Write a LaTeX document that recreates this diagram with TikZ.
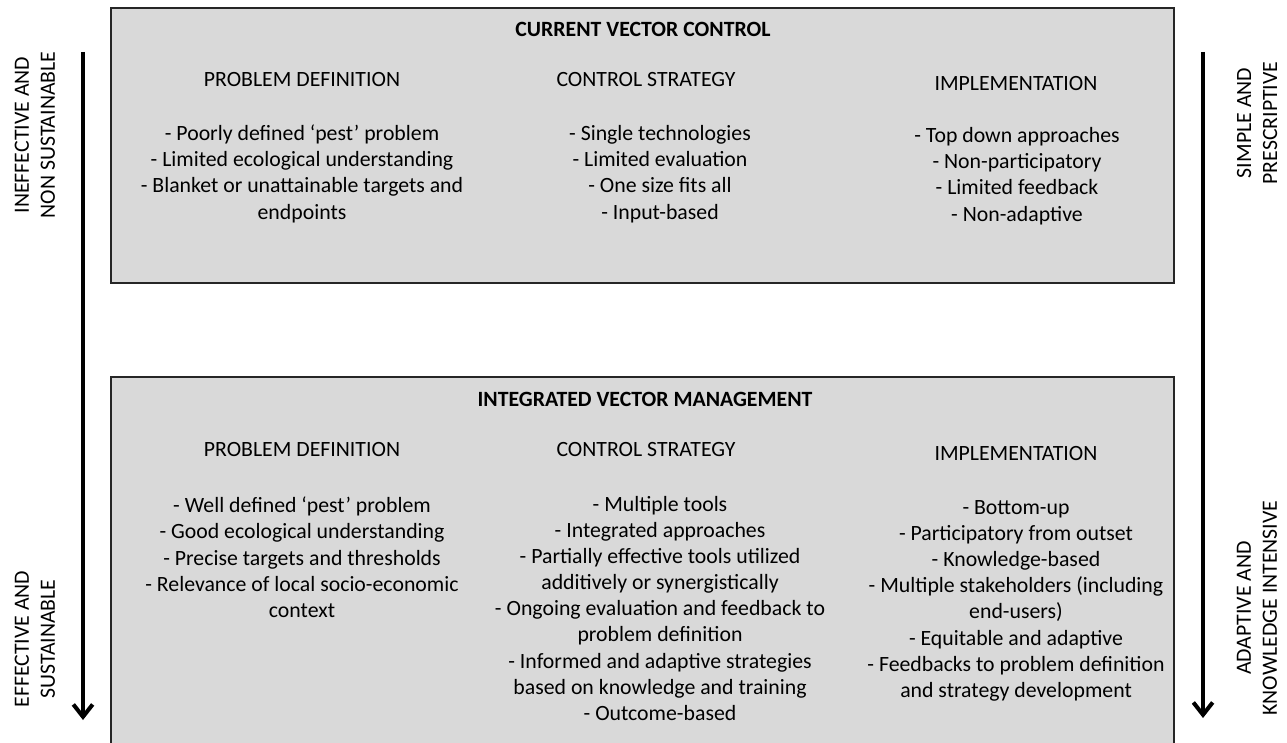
\documentclass[tikz,border=0pt]{standalone}
\usepackage{fontspec}
\setmainfont{Carlito}
\usetikzlibrary{arrows.meta}

\tikzset{
	ivmpicture/.style = {
		x = 0.02cm,
		y = -0.02cm,
		every node/.style = {font = \fontsize{12.4}{14.8}\selectfont}
	},
	panel/.style = {
		draw = black!85,
		fill = black!15,
		line width = 1pt
	},
	paneltitle/.style = {
		anchor = base,
		font = \bfseries\fontsize{12.4}{14.8}\selectfont
	},
	colhead/.style = {
		anchor = base
	},
	% base of a list node is the baseline of its last line
	colitems/.style = {
		align = center,
		anchor = base,
		inner sep = 0pt
	},
	sidelabel/.style = {
		align = center,
		rotate = 90
	},
	trend/.style = {
		draw,
		line width = 2.3pt,
		-{Straight Barb[length=7pt,width=11pt]}
	}
}

\begin{document}
\begin{tikzpicture}[ivmpicture]
	\useasboundingbox (0,0) rectangle (1287,743);

	\draw[panel] (111,8) rectangle (1174,283);
	\draw[panel] (111,377) rectangle (1174,770);

	\node[paneltitle] (cvc) at (643,37) {CURRENT VECTOR CONTROL};
	\node[colhead] (cvc-pd) at (302,87) {PROBLEM DEFINITION};
	\node[colhead] (cvc-cs) at (646,87) {CONTROL STRATEGY};
	\node[colhead] (cvc-im) at (1016,91) {IMPLEMENTATION};

	\node[colitems] (cvc-pd-list) at (302,219) {- Poorly defined ‘pest’ problem\\- Limited ecological understanding\\- Blanket or unattainable targets and\\endpoints};
	\node[colitems] (cvc-cs-list) at (660,219) {- Single technologies\\- Limited evaluation\\- One size fits all\\- Input-based};
	\node[colitems] (cvc-im-list) at (1017,221) {- Top down approaches\\- Non-participatory\\- Limited feedback\\- Non-adaptive};

	\node[paneltitle] (ivm) at (645,406) {INTEGRATED VECTOR MANAGEMENT};
	\node[colhead] (ivm-pd) at (302,456) {PROBLEM DEFINITION};
	\node[colhead] (ivm-cs) at (646,456) {CONTROL STRATEGY};
	\node[colhead] (ivm-im) at (1016,460) {IMPLEMENTATION};

	\node[colitems] (ivm-pd-list) at (302,617) {- Well defined ‘pest’ problem\\- Good ecological understanding\\- Precise targets and thresholds\\- Relevance of local socio-economic\\context};
	\node[colitems] (ivm-cs-list) at (660,720) {- Multiple tools\\- Integrated approaches\\- Partially effective tools utilized\\additively or synergistically\\- Ongoing evaluation and feedback to\\problem definition\\- Informed and adaptive strategies\\based on knowledge and training\\- Outcome-based};
	\node[colitems] (ivm-im-list) at (1016,697) {- Bottom-up\\- Participatory from outset\\- Knowledge-based\\- Multiple stakeholders (including\\end-users)\\- Equitable and adaptive\\- Feedbacks to problem definition\\and strategy development};

	\node[sidelabel] (ineffective) at (35,135) {INEFFECTIVE AND\\NON SUSTAINABLE};
	\node[sidelabel] (effective) at (35,639) {EFFECTIVE AND\\SUSTAINABLE};
	\node[sidelabel] (simple) at (1257,123) {SIMPLE AND\\PRESCRIPTIVE};
	\node[sidelabel] (adaptive) at (1257,608) {ADAPTIVE AND\\KNOWLEDGE INTENSIVE};

	\coordinate (l-start) at (83,52);
	\coordinate (l-end) at (83,720);
	\coordinate (r-start) at (1203,52);
	\coordinate (r-end) at (1203,718);

	\path[trend] (l-start) -- (l-end);
	\path[trend] (r-start) -- (r-end);
\end{tikzpicture}
\end{document}
